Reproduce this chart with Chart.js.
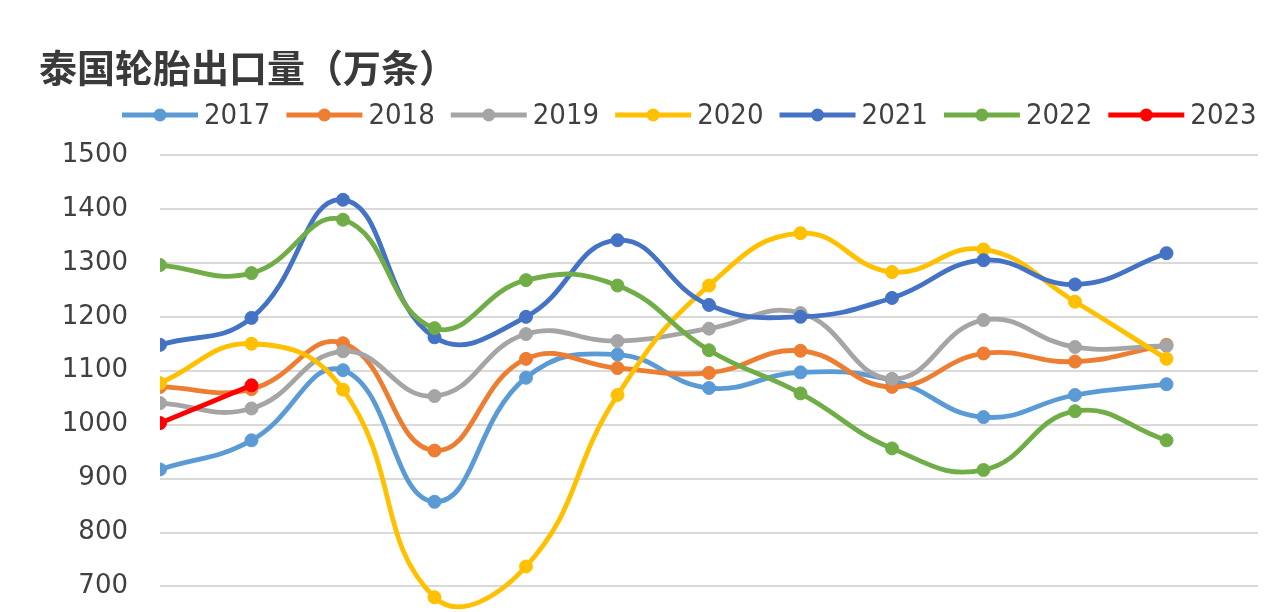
<!DOCTYPE html>
<html>
<head>
<meta charset="utf-8">
<script src="https://cdn.jsdelivr.net/npm/chart.js@4/dist/chart.umd.min.js"></script>
<style>
  html, body { margin: 0; padding: 0; background: #fff; overflow: hidden; }
  canvas { display: block; }
</style>
</head>
<body>
<canvas id="c" width="1278" height="688"></canvas>
<script>
// 泰国轮胎出口量（万条），按月
const months = [1, 2, 3, 4, 5, 6, 7, 8, 9, 10, 11, 12];
const years = ['2017', '2018', '2019', '2020', '2021', '2022', '2023'];

const v2017 = [917, 971, 1101, 857, 1087, 1130, 1068, 1097, 1082, 1014, 1055, 1075];
const v2018 = [1070, 1066, 1151, 952, 1122, 1105, 1096, 1137, 1070, 1132, 1117, 1148];
const v2019 = [1040, 1030, 1136, 1053, 1168, 1155, 1178, 1207, 1085, 1194, 1144, 1146];
const v2020 = [1077, 1150, 1065, 680, 737, 1055, 1258, 1355, 1283, 1325, 1228, 1122];
const v2021 = [1148, 1198, 1417, 1162, 1200, 1342, 1222, 1200, 1235, 1305, 1260, 1318];
const v2022 = [1296, 1281, 1380, 1179, 1268, 1258, 1138, 1058, 956, 916, 1025, 971];
const v2023 = [1003, 1073];

const yTicks = [600, 700, 800, 900, 1000, 1100, 1200, 1300, 1400, 1500];

const titleText = '泰国轮胎出口量（万条）';
const colors = ['#5B9BD5', '#ED7D31', '#A5A5A5', '#FFC000', '#4472C4', '#70AD47', '#FF0000'];
const series = [v2017, v2018, v2019, v2020, v2021, v2022, v2023];

const datasets = series.map((vals, i) => ({
  label: years[i],
  data: vals.map((y, k) => ({ x: months[k], y })),
  borderColor: colors[i],
  backgroundColor: colors[i],
  pointBackgroundColor: colors[i],
  pointBorderColor: colors[i],
  borderWidth: 4.8,
  pointRadius: 6.5,
  pointBorderWidth: 1,
  tension: 0.45,
  fill: false,
  order: series.length - i
}));

// Title and line-style legend drawn above the plot area
const headerPlugin = {
  id: 'header',
  afterDraw(chart) {
    const ctx = chart.ctx;
    ctx.save();
    ctx.fillStyle = '#3a3a3a';
    ctx.font = 'bold 38px "Noto Sans CJK SC", sans-serif';
    ctx.textBaseline = 'middle';
    ctx.textAlign = 'left';
    ctx.fillText(titleText, 39, 68);

    const ly = 115;
    let x = 122;
    const lineLen = 76;
    ctx.font = '29px "DejaVu Sans Condensed", "DejaVu Sans", sans-serif';
    chart.data.datasets.forEach((ds) => {
      ctx.strokeStyle = ds.borderColor;
      ctx.lineWidth = 4.8;
      ctx.beginPath();
      ctx.moveTo(x, ly);
      ctx.lineTo(x + lineLen, ly);
      ctx.stroke();
      ctx.fillStyle = ds.borderColor;
      ctx.beginPath();
      ctx.arc(x + lineLen / 2, ly, 6.5, 0, Math.PI * 2);
      ctx.fill();
      const tx = x + lineLen + 6;
      ctx.fillStyle = '#404040';
      ctx.fillText(ds.label, tx, ly + 1);
      x = tx + ctx.measureText(ds.label).width + 16;
    });
    ctx.restore();
  }
};

new Chart(document.getElementById('c'), {
  type: 'line',
  data: { datasets },
  options: {
    responsive: false,
    animation: false,
    layout: { padding: { top: 155, right: 20, bottom: 20, left: 0 } },
    plugins: {
      legend: { display: false },
      title: { display: false },
      tooltip: { enabled: false }
    },
    scales: {
      x: {
        type: 'linear',
        min: 1,
        max: 13,
        display: false
      },
      y: {
        min: yTicks[0],
        max: yTicks[yTicks.length - 1],
        afterBuildTicks(scale) {
          scale.ticks = yTicks.map(v => ({ value: v }));
        },
        afterFit(scale) { scale.width = 160; },
        border: { display: false },
        grid: { color: '#d9d9d9', lineWidth: 2, drawTicks: false },
        ticks: {
          padding: 32,
          color: '#404040',
          font: { family: '"DejaVu Sans", sans-serif', size: 26 },
          callback: (v) => String(v)
        }
      }
    }
  },
  plugins: [headerPlugin]
});
</script>
</body>
</html>
